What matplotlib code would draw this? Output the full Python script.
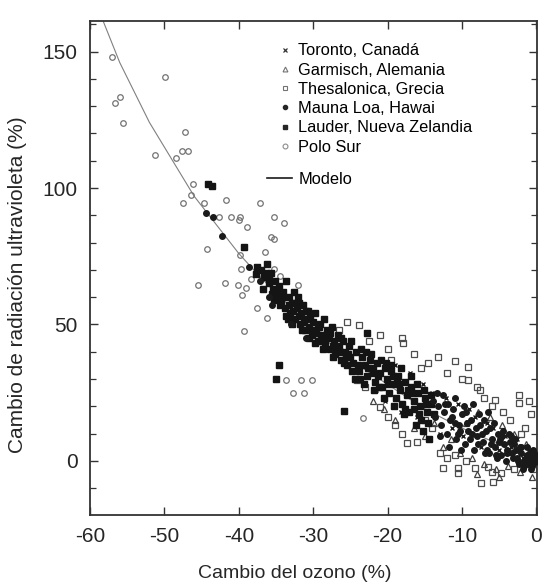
import numpy as np
import matplotlib
matplotlib.use("Agg")
import matplotlib.pyplot as plt
from matplotlib.lines import Line2D
from matplotlib.ticker import MultipleLocator

plt.rcParams['font.family'] = ['Liberation Sans', 'DejaVu Sans']

# --- datos (cambio de ozono %, cambio UV %) ---
toronto_x = [-21.5, -20.3, -19.0, -18.2, -17.0, -16.0, -15.2, -14.0, -13.0, -12.2, -11.4, -10.6,
             -9.8, -9.0, -8.2, -7.4, -6.6, -5.8, -5.0, -4.2, -3.4, -2.6, -1.8, -1.0, -0.4]
toronto_y = [26, 22, 35, 18, 32, 16, 28, 25, 10, 23, 12, 21,
             9, 19, 16, 5, 14, 12, 4, 9, 5, 8, 1, 4, 0]

garmisch_x = [-16.5, -15.0, -13.8, -12.5, -11.5, -10.2, -9.4, -8.6, -7.8, -7.0, -6.2, -5.4,
              -4.6, -3.8, -3.0, -2.2, -1.4, -0.6, -19.0, -20.5, -22.0, -8.0, -5.0]
garmisch_y = [12, 9, 14, 5, 8, 3, 14, 1, 18, -1, 16, -3,
              13, -2, 10, -4, 6, -6, 15, 19, 22, -5, -6]

thesal_x = [-25.4, -23.9, -21.0, -18.1, -17.9, -13.2, -11.0, -9.2, -9.2, -7.6, -2.3, -2.3,
            -5.6, -24.1, -12.5, -10.5, -10.5, -6.5, -4.7, -8.2, -7.4, -5.8, -11.0, -21.0,
            -17.4, -26.5, -22.5, -20.0, -19.5, -16.5, -15.5, -14.5, -12.0, -10.0, -8.0, -7.0,
            -6.0, -4.5, -3.5, -1.5, -0.7, -1.0, -2.0, -19.0, -18.0, -16.0, -14.0, -13.0,
            -9.5, -6.0, -3.0, -0.5, -23.0, -20.0, -15.0, -12.0]
thesal_y = [50.7, 49.8, 46.2, 44.9, 43.1, 38.2, 36.4, 34.5, 29.6, 26.0, 24.2, 21.1,
            22.3, 29.7, -2.7, -2.7, -4.5, -2.1, -4.5, -2.7, -8.2, -7.6, 2.2, 19.9,
            6.5, 48, 44, 41, 37, 39, 34, 36, 32, 30, 27, 23,
            20, 18, 15, 12, 17, 22, 10, 13, 10, 7, 12, 3,
            0, -4, -3, -3, 27, 16, 15, 1]

mauna_x = [-44.4, -43.5, -42.2, -38.6, -37.2, -36.0, -35.5, -33.0, -31.0,
           -13.6, -13.2, -12.8, -12.4, -12.0, -11.6, -11.2, -10.8, -10.4, -10.0, -9.6, -9.2,
           -8.8, -8.4, -8.0, -7.6, -7.2, -6.8, -6.4, -6.0, -5.6, -5.2, -4.8, -4.4, -4.0, -3.6,
           -3.2, -2.8, -2.4, -2.0, -1.6, -1.2, -0.8, -0.5, -0.3, -0.2,
           -13.9, -12.6, -11.9, -11.0, -10.2, -9.4, -8.6, -7.9, -7.0, -6.2, -5.4, -4.6,
           -3.9, -3.0, -2.2, -1.4, -0.9, -0.6, -0.4, -0.1, -1.8, -2.6, -3.4, -5.0, -6.6,
           -13.4, -12.9, -12.3, -11.8, -11.3, -10.9, -10.5, -10.1, -9.7, -9.3, -8.9, -8.5,
           -8.1, -7.7, -7.3, -6.9, -6.5, -6.1, -5.7, -5.3, -4.9, -4.5, -4.1, -3.7, -3.3, -2.9,
           -2.5, -2.1, -1.7, -1.3, -0.9, -0.7, -0.3, -0.15, -1.1, -0.5]
mauna_y = [90.7, 89.5, 82.4, 71.2, 66, 60, 57, 50, 45,
           16, 20, 13, 18, 10, 15, 19, 8, 13, 17, 6, 11,
           15, 4, 9, 13, 7, 11, 3, 8, 5, 10, 2, 6, 3, 7,
           1, 4, -1, 3, 0, 2, -1, 1, 2, -0.5,
           22, 24, 21, 14, 11, 18, 10, 6, 15, 12, 2, 9,
           4, 6, 5, 1, 3, -2, 4, 1, -3, 1, 9, 7, 4,
           25, 9, 21, 5, 16, 23, 10, 4, 20, 14, 8, 21,
           12, 17, 10, 3, 18, 6, 14, 1, 8, 11, 0, 10, 3, 8,
           0, 5, -2, 5, 1, -3, 3, 0, -1, 2]

lauder_x = [-37.0, -36.6, -36.2, -36.0, -35.7, -35.4, -35.1, -34.8, -34.6, -34.3, -34.0, -33.8,
            -33.6, -33.3, -33.1, -32.9, -32.6, -32.4, -32.2, -32.0, -31.8, -31.6, -31.4, -31.1,
            -30.9, -30.7, -30.5, -30.2, -30.0, -29.8, -29.6, -29.3, -29.1, -28.9, -28.6, -28.4,
            -28.2, -27.9, -27.7, -27.5, -27.2, -27.0, -26.7, -26.5, -26.2, -26.0, -25.7, -25.4,
            -25.2, -25.0, -34.6, -35.0, -25.9, -44.2, -43.6, -39.3, -37.5, -37.7, -36.6,
            -24.6, -24.2, -23.9, -23.5, -23.1, -22.8, -22.7, -22.4, -22.0, -21.7, -21.4, -21.0,
            -20.7, -20.4, -20.1, -19.8, -19.5, -19.2, -18.9, -18.6, -18.3, -18.0, -17.7, -17.4,
            -17.1, -16.8, -16.5, -16.2, -15.9, -15.6, -15.3, -15.0, -14.7, -14.4, -14.1,
            -33.4, -32.7, -31.9, -31.2, -30.4, -29.4, -28.8, -28.0, -27.3, -26.4, -25.6,
            -24.8, -23.7, -22.9, -21.9, -21.2, -20.2, -19.3, -18.4, -17.6, -16.7, -15.8, -14.9,
            -36.8, -36.4, -35.9, -35.6, -35.2, -34.9, -34.5, -34.1, -33.7, -33.2, -32.8, -32.3,
            -31.9, -31.5, -31.0, -30.6, -30.1, -29.7, -29.2, -28.7, -28.3, -27.8, -27.4, -26.9,
            -26.3, -25.8, -25.3, -24.9, -24.4, -24.0, -23.6, -23.2, -22.6, -22.2, -21.8, -21.3,
            -20.9, -20.5, -20.0, -19.6, -19.1, -18.7, -18.2, -17.8, -17.3, -16.9, -16.4, -16.0,
            -15.5, -15.1, -14.6, -14.2, -13.8]
lauder_y = [70, 67.5, 72, 65, 69, 63, 66, 60, 64, 58, 62, 56,
            66, 60, 54, 58, 62, 52, 56, 60, 50, 54, 57, 48,
            52, 55, 49, 46, 51, 54, 47, 44, 50, 46, 52, 43,
            48, 45, 41, 49, 44, 39, 46, 42, 37, 44, 40, 35,
            42, 38, 35.2, 30.0, 18.1, 101.5, 100.7, 78.3, 71.0, 68.5, 67.5,
            36, 40, 33, 38, 35, 46.8, 31, 37, 34, 29, 36, 32,
            27, 34, 30, 25, 33, 28, 23, 31, 26, 21, 29, 24,
            18, 27, 22, 13, 25, 20, 11, 23, 18, 8, 21,
            52, 55, 58, 51, 53, 49, 44, 47, 42, 40, 38,
            33, 30, 40, 32, 27, 36, 31, 28, 19, 25, 17, 21,
            63, 69, 67, 61, 59, 62, 57, 60, 53, 57, 50, 58,
            53, 48, 55, 45, 48, 43, 49, 41, 46, 47, 38, 41,
            45, 36, 39, 44, 30, 35, 41, 28, 34, 39, 26, 31,
            37, 23, 28, 35, 20, 30, 34, 17, 26, 31, 19, 28,
            15, 26, 14, 24, 17]

polo_x = [-57.0, -49.9, -55.9, -56.7, -55.6, -47.2, -51.2, -48.5, -47.6, -46.8, -46.1, -47.5,
          -44.7, -41.7, -37.2, -42.6, -41.0, -39.8, -40.0, -38.9, -35.2, -33.9, -35.7, -35.3,
          -44.3, -36.5, -39.7, -35.3, -38.3, -34.4, -45.5, -41.8, -40.1, -39.0, -39.6, -32.1,
          -37.6, -36.2, -39.3, -30.1, -31.2, -23.3, -33.7, -31.6, -32.7, -46.4, -39.9]
polo_y = [148.1, 140.8, 133.4, 131.0, 124.0, 120.4, 112.2, 111.0, 113.4, 113.4, 101.5, 94.4,
          94.4, 95.6, 94.4, 89.5, 89.5, 89.5, 88.3, 85.8, 89.5, 87.3, 82.2, 81.2,
          77.5, 76.6, 70.2, 70.4, 66.8, 67.8, 64.5, 65.3, 64.5, 63.2, 60.8, 64.5,
          55.9, 52.3, 47.7, 29.7, 24.8, 15.6, 29.7, 29.7, 24.8, 97.4, 75.5]

modelo_x = [-58.2, -56, -54, -52, -50, -48, -46, -44, -42, -40, -37, -34, -30, -25, -20, -15, -10, -5, 0]
modelo_y = [161, 146, 135, 124, 115, 106, 97, 90, 83, 76, 67, 59, 48, 37, 28, 19, 12, 6, 0]

fig = plt.figure(figsize=(5.42, 5.85), dpi=100)
ax = fig.add_axes([0.166, 0.12, 0.825, 0.844])

ax.plot(modelo_x, modelo_y, color='0.5', lw=0.8, zorder=1)

ax.plot(polo_x, polo_y, 'o', ms=4, mfc='none', mec='0.45', mew=0.9, zorder=2)
ax.plot(thesal_x, thesal_y, 's', ms=4, mfc='none', mec='0.3', mew=0.9, zorder=2)
ax.plot(garmisch_x, garmisch_y, '^', ms=3.8, mfc='none', mec='0.25', mew=0.9, zorder=3)
ax.plot(toronto_x, toronto_y, 'x', ms=3.5, mec='0.1', mew=1.0, zorder=3)
ax.plot(lauder_x, lauder_y, 's', ms=3.8, mfc='0.08', mec='0.08', zorder=4)
ax.plot(mauna_x, mauna_y, 'o', ms=4, mfc='0.1', mec='0.1', zorder=4)

ax.set_xlim(-59.8, 0.1)
ax.set_ylim(-19.8, 161.2)
ax.set_xticks([-60, -50, -40, -30, -20, -10, 0])
ax.set_xticklabels(['-60', '-50', '-40', '-30', '-20', '-10', '0'])
ax.yaxis.set_major_locator(MultipleLocator(50))
ax.yaxis.set_minor_locator(MultipleLocator(10))
ax.tick_params(which='both', direction='in', top=True, right=True, colors='0.2', labelcolor='0.15')
ax.tick_params(which='major', length=6, width=1.0, labelsize=15, pad=9)
ax.tick_params(which='minor', length=4, width=0.9)
for s in ax.spines.values():
    s.set_linewidth(1.3)
    s.set_color('0.2')

ax.set_xlabel('Cambio del ozono (%)', fontsize=14, color='0.15')
ax.set_ylabel('Cambio de radiación ultravioleta (%)', fontsize=15, color='0.15')
ax.xaxis.set_label_coords(0.459, -0.102)
ax.yaxis.set_label_coords(-0.14, 0.466)

nombres = ['Toronto, Canadá', 'Garmisch, Alemania', 'Thesalonica, Grecia',
           'Mauna Loa, Hawai', 'Lauder, Nueva Zelandia', 'Polo Sur']
handles = [
    Line2D([], [], ls='none', marker='x', ms=3, mec='0.2', mew=0.9),
    Line2D([], [], ls='none', marker='^', ms=3.5, mfc='none', mec='0.45', mew=0.8),
    Line2D([], [], ls='none', marker='s', ms=3.5, mfc='none', mec='0.45', mew=0.8),
    Line2D([], [], ls='none', marker='o', ms=3, mfc='0.15', mec='0.15'),
    Line2D([], [], ls='none', marker='s', ms=3, mfc='0.15', mec='0.15'),
    Line2D([], [], ls='none', marker='o', ms=3.5, mfc='none', mec='0.55', mew=0.8),
]
leg1 = ax.legend(handles, nombres, loc='upper left', bbox_to_anchor=(0.42, 0.955),
                 frameon=False, fontsize=11.8, handlelength=0.9, handletextpad=0.35,
                 labelspacing=0.26, borderpad=0, borderaxespad=0)
ax.add_artist(leg1)
ax.legend([Line2D([], [], color='0.1', lw=1.2)], ['Modelo'], loc='upper left',
          bbox_to_anchor=(0.396, 0.695), frameon=False, fontsize=11.8, handlelength=1.5,
          handletextpad=0.4, borderpad=0, borderaxespad=0)

fig.savefig('out.png', dpi=100)
